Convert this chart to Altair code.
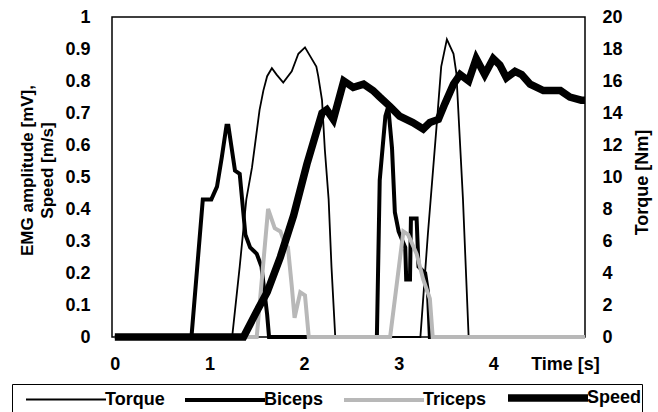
import altair as alt
import pandas as pd

series_names = ["Torque", "Biceps", "Triceps", "Speed"]

torque_t = [0, 1.24, 1.32, 1.39, 1.45, 1.53, 1.57, 1.61, 1.66, 1.71, 1.78, 1.87, 1.94, 2.01, 2.06, 2.13,
            2.15, 2.19, 2.22, 2.26, 2.29, 2.33, 3.23, 3.31, 3.40, 3.45, 3.51, 3.58, 3.61, 3.68, 3.74, 4.97]
torque_v = [0, 0, 4.4, 8.6, 10.6, 14.2, 15.4, 16.3, 16.8, 16.4, 15.9, 16.6, 17.7, 18.1, 17.6, 16.9,
            16.3, 14.8, 11.7, 8.6, 4.4, 0, 0, 6.5, 13.1, 16.9, 18.6, 17.7, 16.5, 8.6, 0, 0]

biceps_t = [0, 0.81, 0.93, 1.02, 1.08, 1.13, 1.18, 1.20, 1.23, 1.27, 1.32, 1.38, 1.43, 1.50, 1.55, 1.61, 1.63,
            2.77, 2.80, 2.86, 2.89, 2.93, 2.96, 3.00, 3.07, 3.08, 3.12, 3.13, 3.19, 3.21, 3.28, 3.31, 3.33, 4.97]
biceps_v = [0, 0, 0.43, 0.43, 0.47, 0.56, 0.66, 0.66, 0.60, 0.52, 0.51, 0.32, 0.28, 0.26, 0.22, 0.07, 0,
            0, 0.49, 0.69, 0.72, 0.59, 0.39, 0.33, 0.28, 0.18, 0.18, 0.37, 0.37, 0.22, 0.20, 0.14, 0, 0]

triceps_t = [0, 1.50, 1.62, 1.69, 1.75, 1.80, 1.83, 1.87, 1.90, 1.96, 2.01, 2.05,
             2.91, 3.05, 3.10, 3.19, 3.26, 3.33, 3.36, 4.97]
triceps_v = [0, 0, 0.40, 0.34, 0.33, 0.29, 0.28, 0.16, 0.06, 0.14, 0.13, 0,
             0, 0.33, 0.32, 0.26, 0.18, 0.12, 0, 0]

speed_t = [0, 1.36, 1.43, 1.50, 1.61, 1.75, 1.89, 2.03, 2.13, 2.19, 2.24, 2.31, 2.42, 2.52, 2.63, 2.73,
           2.80, 2.91, 3.01, 3.15, 3.26, 3.33, 3.42, 3.49, 3.58, 3.65, 3.74, 3.82, 3.91, 4.00, 4.07,
           4.14, 4.23, 4.30, 4.39, 4.53, 4.71, 4.81, 4.93, 4.97]
speed_v = [0, 0, 0.04, 0.08, 0.14, 0.25, 0.38, 0.54, 0.64, 0.70, 0.71, 0.68, 0.80, 0.78, 0.79, 0.77,
           0.75, 0.72, 0.69, 0.67, 0.65, 0.67, 0.68, 0.73, 0.79, 0.82, 0.80, 0.87, 0.82, 0.87, 0.85,
           0.81, 0.83, 0.82, 0.79, 0.77, 0.77, 0.75, 0.74, 0.74]

left_ticks = [0, 0.1, 0.2, 0.3, 0.4, 0.5, 0.6, 0.7, 0.8, 0.9, 1.0]
right_ticks = [0, 2, 4, 6, 8, 10, 12, 14, 16, 18, 20]
x_ticks = [0, 1, 2, 3, 4]

rows = []
for name, ts, vs in [("Torque", torque_t, torque_v), ("Biceps", biceps_t, biceps_v),
                     ("Triceps", triceps_t, triceps_v), ("Speed", speed_t, speed_v)]:
    for i, (t, v) in enumerate(zip(ts, vs)):
        rows.append({"series": name, "t": t, "v": v, "i": i})
df = pd.DataFrame(rows)

FONT = "Liberation Sans Narrow, Liberation Sans, Arial"

color_scale = alt.Scale(domain=series_names, range=["#000000", "#000000", "#b8b8b8", "#000000"])
width_scale = alt.Scale(type="ordinal", domain=series_names, range=[1.8, 4, 4, 7.5])

legend = alt.Legend(title=None, orient="none", legendX=-100, legendY=367, direction="horizontal",
                    columns=4, symbolType="M0,0H8", symbolSize=400, labelOffset=65,
                    columnPadding=6, labelFont=FONT, labelFontSize=18, labelFontWeight="bold",
                    labelColor="black", strokeColor="black", padding=0, labelLimit=200)

x_enc = alt.X("t:Q", scale=alt.Scale(domain=[-0.03, 4.97], nice=False, zero=False),
              axis=alt.Axis(values=x_ticks, format="d", ticks=False, domain=False, grid=False,
                            labelPadding=18, labelFont=FONT, labelFontSize=18, labelFontWeight="bold",
                            labelColor="black",
                            title="Time [s]", titleX=453, titleY=27, titleBaseline="middle",
                            titleAlign="center", titleFont=FONT, titleFontSize=18,
                            titleFontWeight="bold", titleColor="black"))

base = alt.Chart(df)

emg = base.transform_filter(alt.datum.series != "Torque").mark_line().encode(
    x=x_enc,
    y=alt.Y("v:Q", scale=alt.Scale(domain=[0, 1], nice=False),
            axis=alt.Axis(values=left_ticks, format=".1~f", orient="left", ticks=False, domain=False,
                          grid=False, labelPadding=22, labelFont=FONT, labelFontSize=18,
                          labelFontWeight="bold", labelColor="black",
                          title=["EMG amplitude [mV],", "Speed [m/s]"], titleAngle=270,
                          titleX=-80, titleY=153, titleAlign="center", titleBaseline="alphabetic",
                          titleLineHeight=20, titleFont=FONT, titleFontSize=17,
                          titleFontWeight="bold", titleColor="black")),
    color=alt.Color("series:N", scale=color_scale, legend=legend),
    strokeWidth=alt.StrokeWidth("series:N", scale=width_scale, legend=legend),
    order=alt.Order("i:Q"),
    detail="series:N",
)

torque = base.transform_filter(alt.datum.series == "Torque").mark_line().encode(
    x=x_enc,
    y=alt.Y("v:Q", scale=alt.Scale(domain=[0, 20], nice=False),
            axis=alt.Axis(values=right_ticks, format="d", orient="right", ticks=False, domain=False,
                          grid=False, labelPadding=17, labelFont=FONT, labelFontSize=18,
                          labelFontWeight="bold", labelColor="black",
                          title="Torque [Nm]", titleAngle=270, titleX=62, titleY=165,
                          titleAlign="center", titleBaseline="alphabetic", titleFont=FONT,
                          titleFontSize=18, titleFontWeight="bold", titleColor="black")),
    color=alt.Color("series:N", scale=color_scale, legend=legend),
    strokeWidth=alt.StrokeWidth("series:N", scale=width_scale, legend=legend),
    order=alt.Order("i:Q"),
)

chart = alt.layer(torque, emg).resolve_scale(y="independent").properties(
    width=473, height=320,
    autosize=alt.AutoSizeParams(type="none"),
    padding={"left": 112, "top": 17, "right": 73, "bottom": 75},
    background="white",
).configure_view(stroke="black", strokeWidth=1.5)

chart.save("out.html", embed_options={"renderer": "svg", "actions": False})
